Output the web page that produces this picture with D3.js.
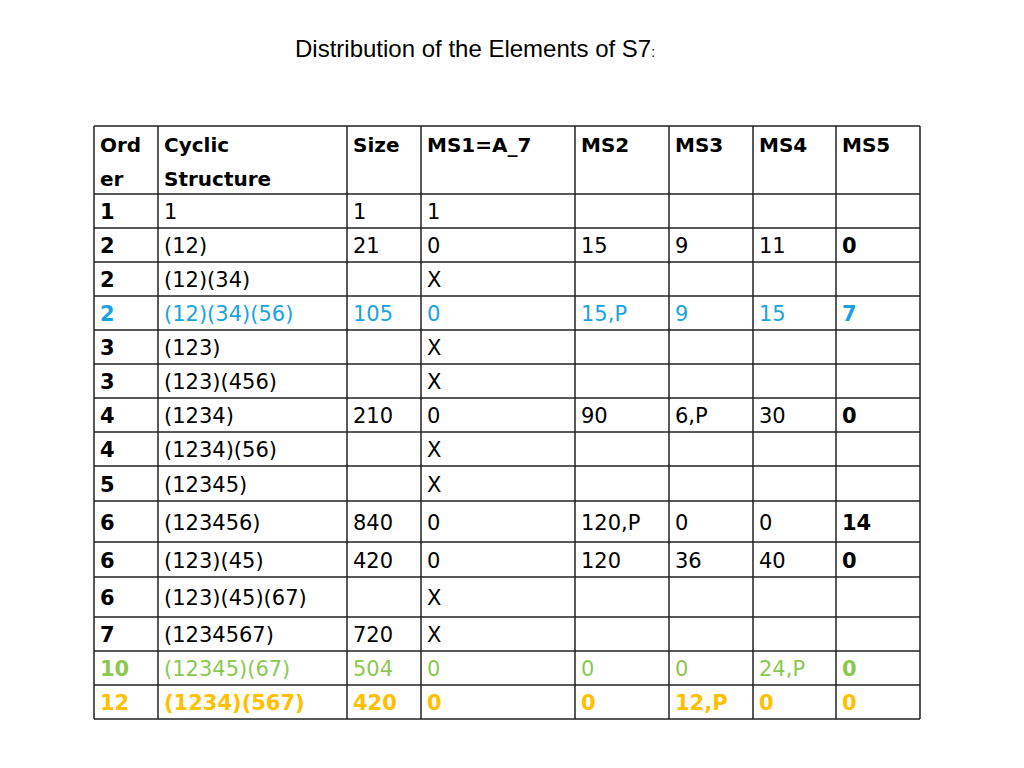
<!DOCTYPE html>
<html><head><meta charset="utf-8">
<script src="https://cdn.jsdelivr.net/npm/d3@7"></script>
<style>body{margin:0;background:#fff}</style></head>
<body><svg id="c" width="1024" height="768"></svg>
<script>
const headers = ["Ord|er","Cyclic|Structure","Size","MS1=A_7","MS2","MS3","MS4","MS5"];
const orders = ["1","2","2","2","3","3","4","4","5","6","6","6","7","10","12"];
const structures = ["1","(12)","(12)(34)","(12)(34)(56)","(123)","(123)(456)","(1234)","(1234)(56)","(12345)","(123456)","(123)(45)","(123)(45)(67)","(1234567)","(12345)(67)","(1234)(567)"];
const sizes = ["1","21","","105","","","210","","","840","420","","720","504","420"];
const ms1 = ["1","0","X","0","X","X","0","X","X","0","0","X","X","0","0"];
const ms2 = ["","15","","15,P","","","90","","","120,P","120","","","0","0"];
const ms3 = ["","9","","9","","","6,P","","","0","36","","","0","12,P"];
const ms4 = ["","11","","15","","","30","","","0","40","","","24,P","0"];
const ms5 = ["","0","","7","","","0","","","14","0","","","0","0"];
const rowColor = ["k","k","k","blue","k","k","k","k","k","k","k","k","k","green","orange"];

const palette = {k:"#000", blue:"#1aa3e0", green:"#8cc850", orange:"#ffc000"};
const colEdges = [94,158,347,421,575,669,753,836,920];
const rowEdges = [126,194,228,262,296,330,364,398,432,466,501,542,577,617,651,685,719];

const svg = d3.select("#c");
svg.append("text").attr("x",295).attr("y",57).attr("font-family","Liberation Sans, Arial").attr("font-size",24)
  .text("Distribution of the Elements of S7").append("tspan").attr("font-size",14).text(":");

const cols = [orders,structures,sizes,ms1,ms2,ms3,ms4,ms5];
const font = "DejaVu Sans, sans-serif";
const g = svg.append("g");
headers.forEach((h,i)=>{
  h.split("|").forEach((line,j)=>{
    g.append("text").attr("x",colEdges[i]+6).attr("y",rowEdges[0]+26+j*34)
      .attr("font-family",font).attr("font-size",20).attr("font-weight","bold").text(line);
  });
});
orders.forEach((_,r)=>{
  const y0=rowEdges[r+1], y1=rowEdges[r+2];
  cols.forEach((col,c)=>{
    const v=col[r]; if(!v) return;
    const bold = c===0 || c===7 || rowColor[r]==="orange";
    g.append("text").attr("x",colEdges[c]+6).attr("y",(y0+y1)/2+8)
      .attr("font-family",font).attr("font-size",21).attr("font-weight",bold?"bold":"normal")
      .attr("fill",palette[rowColor[r]]).text(v);
  });
});
rowEdges.forEach(y=>g.append("line").attr("x1",colEdges[0]).attr("x2",colEdges[8]).attr("y1",y).attr("y2",y).attr("stroke","#222").attr("stroke-width",1.5));
colEdges.forEach(x=>g.append("line").attr("x1",x).attr("x2",x).attr("y1",rowEdges[0]).attr("y2",rowEdges[rowEdges.length-1]).attr("stroke","#222").attr("stroke-width",1.5));
</script></body></html>
